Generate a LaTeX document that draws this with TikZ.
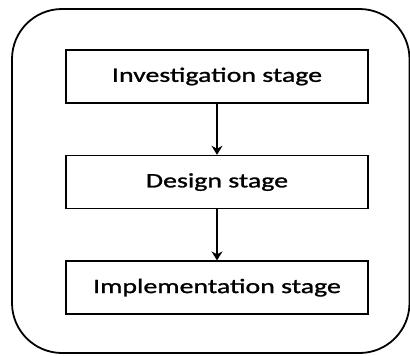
\documentclass[tikz,border=0pt]{standalone}
\usepackage{fontspec}
\newfontfamily\stagefont[FakeStretch=1.36, FakeBold=1.2]{Carlito}
\usetikzlibrary{arrows.meta, positioning}
\tikzstyle{stagebox} = [rectangle, draw, line width=1.6pt, text centered, minimum width=302pt, minimum height=53pt, fill=white, font=\stagefont\fontsize{20.5}{24}\selectfont]
\tikzstyle{flow} = [line width=1.5pt, -{Stealth[length=9pt, width=11pt]}, black]
\tikzstyle{frame} = [line width=1.8pt, rounded corners=50pt, black]

\begin{document}
\begin{tikzpicture}[node distance=51pt]

	\useasboundingbox (0pt,0pt) rectangle (410pt,-356pt);

	% Outer frame
	\draw[frame] (12pt,-9pt) rectangle (409.5pt,-353pt);

	% Stages
	\node (investigation) [stagebox] at (217pt,-76.5pt) {Investigation stage};
	\node (design) [stagebox, below=of investigation] {Design stage};
	\node (implementation) [stagebox, below=of design] {Implementation stage};

	% Arrows
	\draw[flow] (investigation) -- (design);
	\draw[flow] (design) -- (implementation);

\end{tikzpicture}
\end{document}
